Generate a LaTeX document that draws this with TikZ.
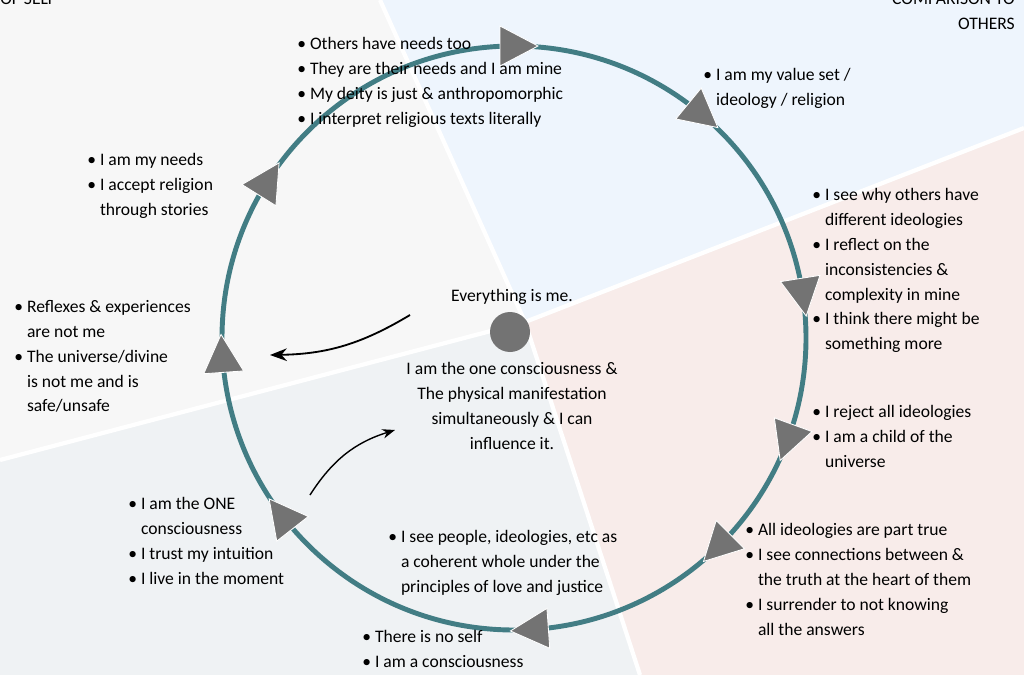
\documentclass[tikz,border=0pt]{standalone}
\usepackage{fontspec}
\setmainfont{Carlito}
\usetikzlibrary{arrows.meta}
\definecolor{ringteal}{RGB}{66,125,132}
\definecolor{bgself}{RGB}{247,247,247}
\definecolor{bgother}{RGB}{238,245,253}
\definecolor{bgpink}{RGB}{248,236,234}
\definecolor{bgslate}{RGB}{239,242,244}
\newcommand{\bl}{\textbullet\ }
\newcommand{\hg}{\phantom{\textbullet\ }}
\tikzset{
  stage/.style={anchor=north west, align=left, inner sep=0pt,
    font=\fontsize{12.5}{17.7}\selectfont},
  note/.style={align=center, inner sep=0pt, font=\fontsize{12.5}{17.7}\selectfont},
  turn/.style={fill=gray!90!black, draw=white, line width=0.6pt}
}
\begin{document}
\begin{tikzpicture}[x=0.025cm, y=-0.025cm]
  \useasboundingbox (0,0) rectangle (1024,675);

  % Background quarters.
  \coordinate (mid) at (525,322);
  \fill [bgself] (0,0) -- (380,0) -- (mid) -- (0,460) -- cycle;
  \fill [bgother] (380,0) -- (1024,0) -- (1024,128) -- (mid) -- cycle;
  \fill [bgpink] (mid) -- (1024,128) -- (1024,675) -- (640,675) -- cycle;
  \fill [bgslate] (mid) -- (640,675) -- (0,675) -- (0,460) -- cycle;
  \draw [white, line width=3pt] (380,0) -- (mid) -- (1024,128);
  \draw [white, line width=3pt] (0,460) -- (mid) -- (640,675);

  % Corner titles.
  \node [stage, anchor=north west] (self) at (0,-7) {OF SELF};
  \node [stage, anchor=north east, align=right] (others) at (1015,-7)
        {COMPARISON TO\\OTHERS};

  % Ring.
  \coordinate (ctr) at (514,338);
  \draw [ringteal, line width=3.5pt] (ctr) circle [x radius=292, y radius=292];

  % Direction marks on the ring.
  \foreach \a in {-90, -50.6, -9, 20, 45, 86, 142, 176, 212} {
    \fill [turn]
      ({514+292*cos(\a)+24*cos(\a+90)}, {338+292*sin(\a)+24*sin(\a+90)}) --
      ({514+292*cos(\a)-14*cos(\a+90)+20*cos(\a)}, {338+292*sin(\a)-14*sin(\a+90)+20*sin(\a)}) --
      ({514+292*cos(\a)-14*cos(\a+90)-20*cos(\a)}, {338+292*sin(\a)-14*sin(\a+90)-20*sin(\a)}) --
      cycle;
  }

  % Centre.
  \fill [gray!90!black] (510,332) circle [x radius=20, y radius=20];
  \node [note] (all) at (512,297) {Everything is me.};
  \node [note, anchor=north] (one) at (512,362)
        {I am the one consciousness \&\\The physical manifestation\\
         simultaneously \& I can\\influence it.};
  \coordinate (outA) at (410,315);
  \coordinate (outB) at (270,355);
  \coordinate (inA) at (310,495);
  \coordinate (inB) at (395,430);
  \draw [line width=1.3pt, -{Stealth[length=12pt]}] (outA) to [bend left=15] (outB);
  \draw [line width=1pt, -{Stealth[length=9pt]}] (inA) to [bend left=20] (inB);

  % Stages.
  \node [stage] (needs) at (297,37)
        {\bl Others have needs too\\\bl They are their needs and I am mine\\
         \bl My deity is just \& anthropomorphic\\\bl I interpret religious texts literally};
  \node [stage] (value) at (703,68) {\bl I am my value set /\\\hg ideology / religion};
  \node [stage] (why) at (812,188)
        {\bl I see why others have\\\hg different ideologies\\\bl I reflect on the\\
         \hg inconsistencies \&\\\hg complexity in mine\\\bl I think there might be\\
         \hg something more};
  \node [stage] (reject) at (812,405)
        {\bl I reject all ideologies\\\bl I am a child of the\\\hg universe};
  \node [stage] (part) at (745,523)
        {\bl All ideologies are part true\\\bl I see connections between \&\\
         \hg the truth at the heart of them\\\bl I surrender to not knowing\\\hg all the answers};
  \node [stage] (noself) at (362,630) {\bl There is no self\\\bl I am a consciousness};
  \node [stage] (whole) at (388,530)
        {\bl I see people, ideologies, etc as\\\hg a coherent whole under the\\
         \hg principles of love and justice};
  \node [stage] (theone) at (128,497)
        {\bl I am the ONE\\\hg consciousness\\\bl I trust my intuition\\\bl I live in the moment};
  \node [stage] (reflex) at (14,300)
        {\bl Reflexes \& experiences\\\hg are not me\\\bl The universe/divine\\
         \hg is not me and is\\\hg safe/unsafe};
  \node [stage] (mine) at (87,153)
        {\bl I am my needs\\\bl I accept religion\\\hg through stories};
\end{tikzpicture}
\end{document}
